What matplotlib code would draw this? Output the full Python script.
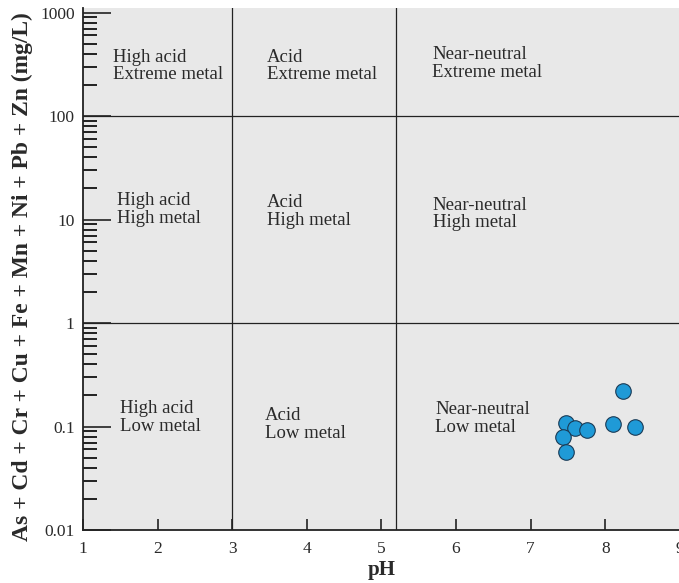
import matplotlib
matplotlib.use("Agg")
import matplotlib.pyplot as plt
from matplotlib.ticker import LogLocator, FixedLocator, NullFormatter, FixedFormatter

ph = [8.24, 7.47, 7.60, 7.75, 7.44, 7.48, 8.10, 8.40]
metals = [0.222, 0.107, 0.096, 0.092, 0.080, 0.057, 0.105, 0.100]

region_labels = ["High acid\nExtreme metal", "Acid\nExtreme metal", "Near-neutral\nExtreme metal",
                 "High acid\nHigh metal", "Acid\nHigh metal", "Near-neutral\nHigh metal",
                 "High acid\nLow metal", "Acid\nLow metal", "Near-neutral\nLow metal"]
label_x = [1.40, 3.47, 5.68, 1.46, 3.47, 5.69, 1.50, 3.44, 5.72]
label_y = [305, 305, 320, 12.5, 11.9, 11.3, 0.122, 0.105, 0.12]

ph_bounds = [3, 5.2]
metal_bounds = [1, 100]

xticks = [1, 2, 3, 4, 5, 6, 7, 8, 9]
yticks = [0.01, 0.1, 1, 10, 100, 1000]
ytick_labels = ["0.01", "0.1", "1", "10", "100", "1000"]

plt.rcParams['font.family'] = ['Liberation Serif', 'DejaVu Serif']

fig = plt.figure(figsize=(6.79, 5.83), dpi=100)
ax = fig.add_axes([0.1222, 0.0909, 0.879, 0.895])
ax.set_facecolor('#e8e8e8')
ax.set_yscale('log')
ax.set_xlim(1, 9)
ax.set_ylim(0.01, 1100)

for xv in ph_bounds:
    ax.axvline(xv, color='#222222', lw=0.9, zorder=1)
for yv in metal_bounds:
    ax.axhline(yv, color='#222222', lw=0.9, zorder=1)

for t, x, y in zip(region_labels, label_x, label_y):
    ax.text(x, y, t, ha='left', va='center', fontsize=13.5, color='#2a2a2a', linespacing=1.05)

ax.scatter(ph, metals, s=125, color='#1f9ad7', edgecolor='#1a3a55', linewidth=0.8, zorder=3)

ax.xaxis.set_major_locator(FixedLocator(xticks))
ax.yaxis.set_major_locator(FixedLocator(yticks))
ax.yaxis.set_major_formatter(FixedFormatter(ytick_labels))
ax.yaxis.set_minor_locator(LogLocator(base=10, subs=range(2, 10)))
ax.yaxis.set_minor_formatter(NullFormatter())
ax.tick_params(axis='both', which='major', direction='in', labelsize=12.5, color='#222222', labelcolor='#2a2a2a')
ax.tick_params(axis='x', which='major', length=8, width=1.2, pad=8)
ax.tick_params(axis='y', which='major', length=20, width=1.2, pad=6)
ax.tick_params(axis='y', which='minor', direction='in', length=10, width=1.2)
ax.tick_params(top=False, right=False, which='both')

for s in ['top', 'right']:
    ax.spines[s].set_visible(False)
for s in ['left', 'bottom']:
    ax.spines[s].set_linewidth(1.3)
    ax.spines[s].set_color('#222222')

ax.set_xlabel('pH', fontsize=15, fontweight='bold', labelpad=2, color='#2a2a2a')
ax.set_ylabel('As + Cd + Cr + Cu + Fe + Mn + Ni + Pb + Zn (mg/L)', fontsize=16.9, fontweight='bold',
              color='#2a2a2a')
ax.yaxis.set_label_coords(-0.083, 0.485)

fig.savefig('out.png', dpi=100)
